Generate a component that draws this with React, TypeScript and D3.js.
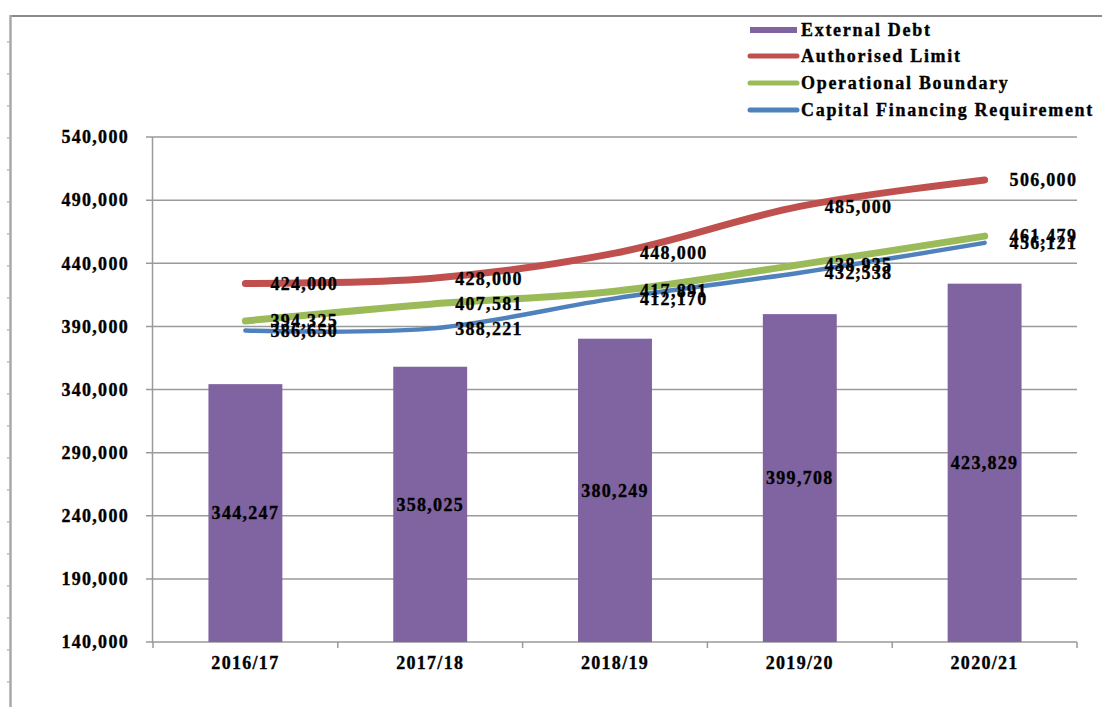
import React from "react";
import * as d3 from "d3";

const categories = ["2016/17", "2017/18", "2018/19", "2019/20", "2020/21"];
const externalDebt = [344247, 358025, 380249, 399708, 423829];
const authorisedLimit = [424000, 428000, 448000, 485000, 506000];
const operationalBoundary = [394325, 407581, 417891, 438935, 461479];
const capitalFinancing = [386650, 388221, 412170, 432538, 456121];
const yTicks = [140000, 190000, 240000, 290000, 340000, 390000, 440000, 490000, 540000];

const W = 1102;
const H = 707;
const FONT = "'Liberation Serif', 'Times New Roman', serif";

export default function App() {
  const x = d3.scaleBand<string>().domain(categories).range([153, 1077]).paddingInner(0).paddingOuter(0);
  const y = d3.scaleLinear().domain([140000, 540000]).range([642, 137]);
  const bw = x.bandwidth() * 0.4;
  const cx = (c: string) => (x(c) as number) + x.bandwidth() / 2;
  const fmt = d3.format(",");
  const line = d3
    .line<number>()
    .x((_, i) => cx(categories[i]))
    .y((d) => y(d))
    .curve(d3.curveCatmullRom.alpha(0.5));

  const lineSeries = [
    { name: "Authorised Limit", data: authorisedLimit, color: "#C0504D", w: 7 },
    { name: "Operational Boundary", data: operationalBoundary, color: "#9BBB59", w: 7 },
    { name: "Capital Financing Requirement", data: capitalFinancing, color: "#4F81BD", w: 4.5 },
  ];
  const legend = [
    { name: "External Debt", color: "#8064A2", bar: true },
    ...lineSeries.map((s) => ({ name: s.name, color: s.color, bar: false })),
  ];
  const legendY = [30, 56, 83, 110];
  const leftTicks = d3.range(42, 707, 32);
  const boundaries = d3.range(categories.length + 1).map((i) => 153 + i * x.bandwidth());

  const txt = {
    fontFamily: FONT,
    fontWeight: 700 as const,
    fontSize: 18,
    fill: "#000",
    stroke: "#000",
    strokeWidth: 0.35,
    letterSpacing: 1.3,
  };

  return (
    <svg width={W} height={H} style={{ position: "absolute", left: 0, top: 0, background: "#fff" }}>
      <rect x={0} y={0} width={W} height={H} fill="#fff" />
      {/* frame */}
      <line x1={10} x2={W} y1={16} y2={16} stroke="#8a8a8a" strokeWidth={2} />
      <line x1={10.5} x2={10.5} y1={15} y2={H} stroke="#a8a8a8" strokeWidth={2.5} />
      {leftTicks.map((t) => (
        <line key={t} x1={7} x2={10} y1={t} y2={t} stroke="#bbb" strokeWidth={1.5} />
      ))}
      {/* gridlines */}
      {yTicks.map((t) => (
        <g key={t}>
          <line x1={146} x2={1077} y1={y(t)} y2={y(t)} stroke="#9a9a9a" strokeWidth={1.5} />
          <text x={129} y={y(t)} dy="0.35em" textAnchor="end" {...txt}>
            {fmt(t)}
          </text>
        </g>
      ))}
      <line x1={152.5} x2={152.5} y1={137} y2={642} stroke="#9a9a9a" strokeWidth={1.5} />
      {boundaries.map((b) => (
        <line key={b} x1={b} x2={b} y1={642} y2={648} stroke="#9a9a9a" strokeWidth={1.5} />
      ))}
      {categories.map((c) => (
        <text key={c} x={cx(c)} y={663} dy="0.35em" textAnchor="middle" {...txt}>
          {c}
        </text>
      ))}
      {/* bars */}
      {externalDebt.map((v, i) => (
        <rect
          key={i}
          x={cx(categories[i]) - bw / 2}
          y={y(v)}
          width={bw}
          height={642 - y(v)}
          fill="#8064A2"
        />
      ))}
      {/* lines */}
      {lineSeries.map((s) => (
        <path
          key={s.name}
          d={line(s.data) as string}
          fill="none"
          stroke={s.color}
          strokeWidth={s.w}
          strokeLinecap="round"
          strokeLinejoin="round"
        />
      ))}
      {/* bar labels */}
      {externalDebt.map((v, i) => (
        <text key={i} x={cx(categories[i])} y={(y(v) + 642) / 2} dy="0.35em" textAnchor="middle" {...txt}>
          {fmt(v)}
        </text>
      ))}
      {/* line labels */}
      {lineSeries.map((s) =>
        s.data.map((v, i) => (
          <text key={s.name + i} x={cx(categories[i]) + 25} y={y(v)} dy="0.35em" textAnchor="start" {...txt}>
            {fmt(v)}
          </text>
        ))
      )}
      {/* legend */}
      {legend.map((l, i) => (
        <g key={l.name}>
          {l.bar ? (
            <rect x={750} y={legendY[i] - 3} width={47} height={6} fill={l.color} />
          ) : (
            <line x1={750} x2={797} y1={legendY[i]} y2={legendY[i]} stroke={l.color} strokeWidth={5} strokeLinecap="round" />
          )}
          <text x={801} y={legendY[i]} dy="0.35em" {...txt} fontSize={18} letterSpacing={1.7}>
            {l.name}
          </text>
        </g>
      ))}
    </svg>
  );
}
